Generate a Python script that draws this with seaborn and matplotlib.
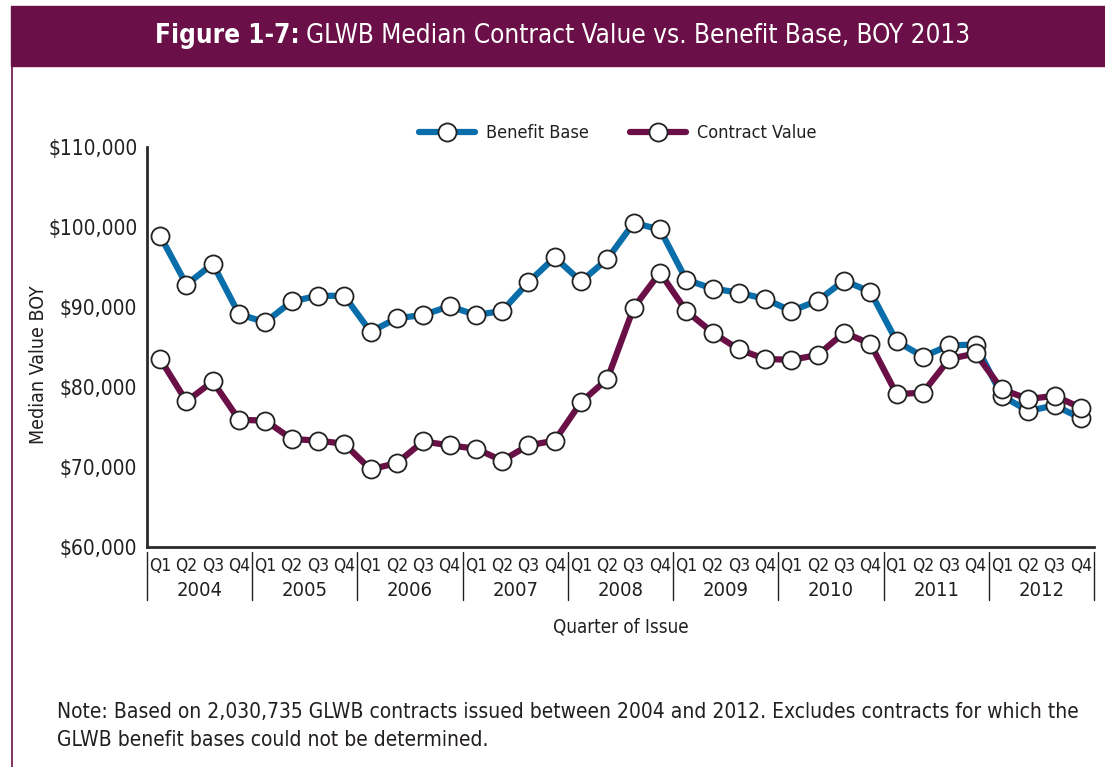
import numpy as np
import pandas as pd
import matplotlib
matplotlib.use("Agg")
import matplotlib.pyplot as plt
import matplotlib.transforms as mtransforms
from matplotlib.patches import Rectangle
from matplotlib.lines import Line2D
import seaborn as sns

years = [2004, 2005, 2006, 2007, 2008, 2009, 2010, 2011, 2012]
quarters = ["Q1", "Q2", "Q3", "Q4"]

benefit_base = [98900, 92800, 95400, 89100,
                88100, 90700, 91400, 91400,
                86900, 88600, 89000, 90100,
                89000, 89500, 93100, 96200,
                93200, 96000, 100500, 99700,
                93400, 92300, 91800, 91000,
                89500, 90800, 93300, 91900,
                85700, 83800, 85200, 85300,
                78900, 77000, 77700, 76100]
contract_value = [83500, 78200, 80700, 75900,
                  75800, 73500, 73300, 72900,
                  69700, 70500, 73200, 72700,
                  72300, 70800, 72700, 73300,
                  78100, 81000, 89900, 94300,
                  89500, 86800, 84700, 83500,
                  83400, 84000, 86800, 85400,
                  79100, 79300, 83500, 84200,
                  79700, 78500, 78900, 77400]

yticks = [60000, 70000, 80000, 90000, 100000, 110000]

BLUE = "#0a6eab"
PURPLE = "#6a1047"
BAR = "#6a0f47"
TXT = "#231f20"

sns.set_theme(style="white")
plt.rcParams["font.family"] = ["DejaVu Sans"]
plt.rcParams["font.stretch"] = "condensed"
plt.rcParams["text.color"] = TXT
plt.rcParams["axes.labelcolor"] = TXT
plt.rcParams["xtick.color"] = TXT
plt.rcParams["ytick.color"] = TXT

n = len(benefit_base)
df = pd.DataFrame({"idx": np.arange(n), "bb": benefit_base, "cv": contract_value})

fig = plt.figure(figsize=(11.05, 7.67), dpi=100)
ax = fig.add_axes([147 / 1105, 1 - 547 / 767, 947 / 1105, 400 / 767])

mk = dict(marker="o", markersize=13, markerfacecolor="white",
          markeredgecolor="#222222", markeredgewidth=1.3)
sns.lineplot(data=df, x="idx", y="bb", ax=ax, color=BLUE, linewidth=4.5, **mk)
sns.lineplot(data=df, x="idx", y="cv", ax=ax, color=PURPLE, linewidth=4.5, **mk)

ax.set_xlim(-0.5, n - 0.5)
ax.set_ylim(60000, 110000)
ax.set_yticks(yticks)
ax.set_yticklabels(["${:,}".format(v) for v in yticks], fontsize=15)
ax.tick_params(axis="y", direction="in", length=10, width=1.2, pad=7)

ax.set_xticks(np.arange(n))
ax.set_xticklabels(quarters * len(years), fontsize=12.5)
ax.tick_params(axis="x", which="major", length=0, pad=7)
ax.set_xticks(np.arange(n + 1) - 0.5, minor=True)
ax.tick_params(axis="x", which="minor", direction="in", length=6, width=1.2, color=TXT)

for s in ["top", "right"]:
    ax.spines[s].set_visible(False)
for s in ["left", "bottom"]:
    ax.spines[s].set_color("#2a2a2a")
    ax.spines[s].set_linewidth(2)

trans = mtransforms.blended_transform_factory(ax.transData, ax.transAxes)
for k, yr in enumerate(years):
    ax.text(4 * k + 1.5, -0.11, str(yr), transform=trans, ha="center",
            va="center", fontsize=14.5, color=TXT)
for k in range(len(years) + 1):
    ax.plot([4 * k - 0.5, 4 * k - 0.5], [-0.013, -0.133], transform=trans,
            color=TXT, linewidth=1, clip_on=False)

ax.set_xlabel("Quarter of Issue", fontsize=13.5, labelpad=31)
ax.set_ylabel("Median Value BOY", fontsize=14, labelpad=0, y=0.455)

handles = [Line2D([], [], color=BLUE, linewidth=4.5, **mk),
           Line2D([], [], color=PURPLE, linewidth=4.5, **mk)]
ax.legend(handles, ["Benefit Base", "Contract Value"], loc="center",
          bbox_to_anchor=(0.497, 1.035), ncol=2, frameon=False, fontsize=13,
          handlelength=3.1, columnspacing=2.3, handletextpad=0.6)

# title bar and frame line
fig.patches.append(Rectangle((11 / 1105, 1 - 66 / 767), 1 - 11 / 1105, 60 / 767,
                             transform=fig.transFigure, color=BAR, zorder=0))
fig.add_artist(Line2D([11.5 / 1105, 11.5 / 1105], [0, 1 - 66 / 767],
                      transform=fig.transFigure, color=BAR, linewidth=1.2))
t1 = fig.text(155 / 1105, 1 - 36 / 767, "Figure 1-7:", color="white",
              fontsize=18.7, fontweight="bold", va="center", ha="left")
fig.canvas.draw()
bb1 = t1.get_window_extent()
fig.text((bb1.x1 + 6) / 1105, 1 - 36 / 767,
         "GLWB Median Contract Value vs. Benefit Base, BOY 2013",
         color="white", fontsize=18.7, va="center", ha="left")

fig.text(57 / 1105, 1 - 712 / 767,
         "Note: Based on 2,030,735 GLWB contracts issued between 2004 and 2012. "
         "Excludes contracts for which the", fontsize=15, va="center", ha="left")
fig.text(57 / 1105, 1 - 740 / 767,
         "GLWB benefit bases could not be determined.", fontsize=15,
         va="center", ha="left")

fig.savefig("out.png", dpi=100)
